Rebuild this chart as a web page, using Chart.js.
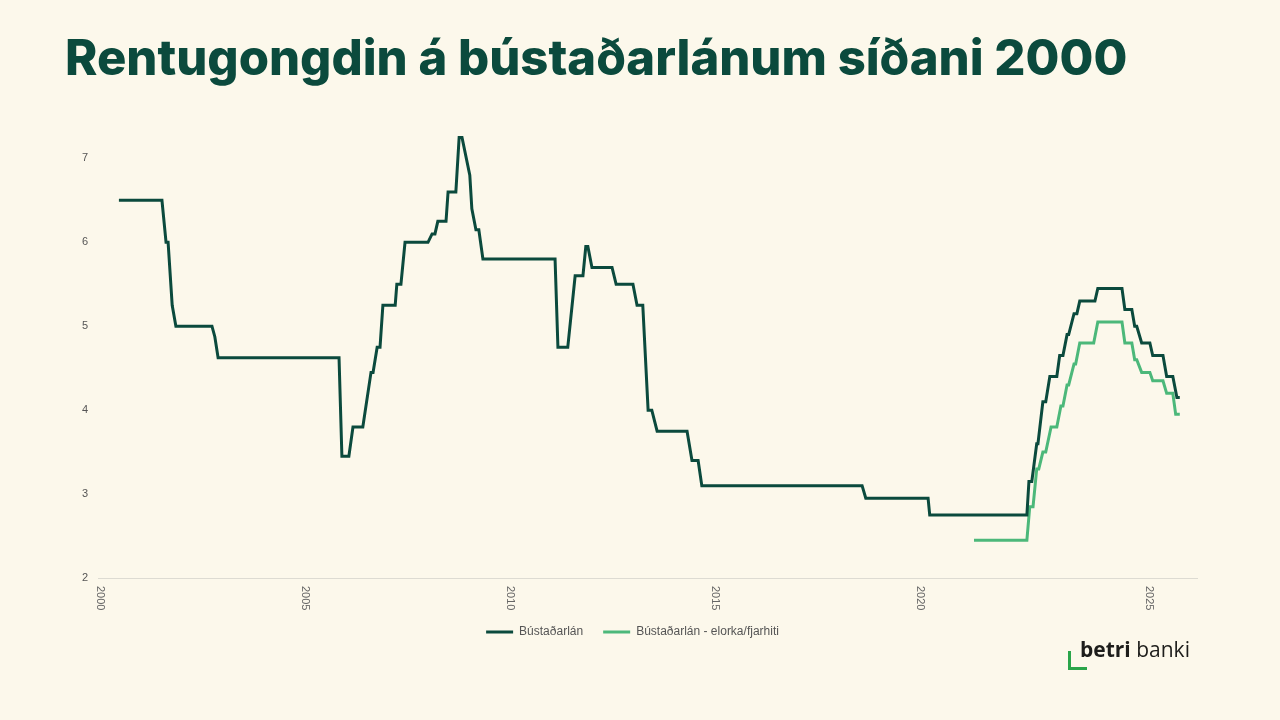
<!DOCTYPE html>
<html lang="fo">
<head>
<meta charset="utf-8">
<title>Rentugongdin á bústaðarlánum síðani 2000</title>
<script src="https://cdn.jsdelivr.net/npm/chart.js@4.4.1/dist/chart.umd.min.js"></script>
<style>
  html, body { margin: 0; padding: 0; }
  body { width: 1280px; height: 720px; background: #fcf8eb; position: relative; overflow: hidden; font-family: "Liberation Sans", Arial, sans-serif; }
  h1 { position: absolute; left: 65px; top: 23px; margin: 0; font-family: Inter, "Open Sans", sans-serif; font-weight: 800; font-size: 49px; line-height: 70px; color: #0b4a3d; letter-spacing: 0px; }
  #wrap { position: absolute; left: 0; top: 104px; width: 1280px; height: 550px; }
  .logo { position: absolute; left: 1080px; top: 634px; font-family: "Open Sans", Inter, sans-serif; font-size: 21px; color: #1d1d1b; line-height: 30px; }
  .logo b { font-weight: 700; }
  .mark { position: absolute; left: 1068px; top: 651px; width: 19px; height: 19px; border-left: 3px solid #2aa54a; border-bottom: 3px solid #2aa54a; box-sizing: border-box; }
</style>
</head>
<body>
<h1>Rentugongdin á bústaðarlánum síðani 2000</h1>
<div id="wrap"><canvas id="rateChart"></canvas></div>
<div class="mark"></div>
<div class="logo"><b>betri</b> banki</div>
<script>
// Bústaðarlán (decimal year, rate %)
const bustadDates = [2000.46, 2001.51, 2001.61, 2001.66, 2001.76, 2001.85, 2002.73, 2002.80, 2002.88,
  2005.83, 2005.90, 2006.07, 2006.17, 2006.41, 2006.61, 2006.66, 2006.76, 2006.83, 2006.90, 2007.20,
  2007.24, 2007.34, 2007.44, 2008.00, 2008.10, 2008.17, 2008.24, 2008.44, 2008.49, 2008.68, 2008.76,
  2008.83, 2009.02, 2009.07, 2009.17, 2009.24, 2009.34, 2011.10, 2011.17, 2011.41, 2011.59, 2011.78,
  2011.85, 2011.90, 2012.00, 2012.49, 2012.59, 2013.00, 2013.10, 2013.24, 2013.37, 2013.46, 2013.59,
  2014.32, 2014.44, 2014.59, 2014.68, 2018.59, 2018.68, 2020.20, 2020.24, 2022.61, 2022.66, 2022.73,
  2022.85, 2022.88, 2023.00, 2023.07, 2023.17, 2023.34, 2023.41, 2023.49, 2023.59, 2023.63, 2023.76,
  2023.83, 2023.90, 2024.27, 2024.34, 2024.93, 2025.00, 2025.17, 2025.24, 2025.29, 2025.41, 2025.61,
  2025.68, 2025.93, 2026.02, 2026.17, 2026.27, 2026.34];
const bustadRates = [6.5, 6.5, 6.0, 6.0, 5.25, 5.0, 5.0, 4.875, 4.625,
  4.625, 3.45, 3.45, 3.8, 3.8, 4.45, 4.45, 4.75, 4.75, 5.25, 5.25,
  5.5, 5.5, 6.0, 6.0, 6.1, 6.1, 6.25, 6.25, 6.6, 6.6, 7.25,
  7.25, 6.8, 6.4, 6.15, 6.15, 5.8, 5.8, 4.75, 4.75, 5.6, 5.6,
  5.95, 5.95, 5.7, 5.7, 5.5, 5.5, 5.25, 5.25, 4.0, 4.0, 3.75,
  3.75, 3.4, 3.4, 3.1, 3.1, 2.95, 2.95, 2.75, 2.75, 3.15, 3.15,
  3.6, 3.6, 4.1, 4.1, 4.4, 4.4, 4.65, 4.65, 4.9, 4.9, 5.15,
  5.15, 5.3, 5.3, 5.45, 5.45, 5.2, 5.2, 5.0, 5.0, 4.8, 4.8,
  4.65, 4.65, 4.4, 4.4, 4.15, 4.15];

// Bústaðarlán - elorka/fjarhiti
const elorkaDates = [2021.32, 2022.61, 2022.68, 2022.76, 2022.85, 2022.90, 2023.00, 2023.07, 2023.20,
  2023.34, 2023.44, 2023.49, 2023.59, 2023.63, 2023.76, 2023.80, 2023.90, 2024.24, 2024.34, 2024.93,
  2025.00, 2025.17, 2025.24, 2025.29, 2025.41, 2025.61, 2025.68, 2025.93, 2026.02, 2026.17, 2026.24, 2026.34];
const elorkaRates = [2.45, 2.45, 2.85, 2.85, 3.3, 3.3, 3.5, 3.5, 3.8,
  3.8, 4.05, 4.05, 4.3, 4.3, 4.55, 4.55, 4.8, 4.8, 5.05, 5.05,
  4.8, 4.8, 4.6, 4.6, 4.45, 4.45, 4.35, 4.35, 4.2, 4.2, 3.95, 3.95];

const xTickPos = [2000, 2005, 2010, 2015, 2020, 2025.6];
const xTickLabels = ['2000', '2005', '2010', '2015', '2020', '2025'];
const yTicks = [2, 3, 4, 5, 6, 7];

const toPoints = (xs, ys) => xs.map((x, i) => ({ x: x, y: ys[i] }));

/* rotated year labels under the x axis (they read top to bottom) */
const xLabels = {
  id: 'xLabels',
  afterDraw(chart) {
    const sc = chart.scales.x;
    const ctx = chart.ctx;
    ctx.save();
    ctx.font = '11px "Liberation Sans", Arial, sans-serif';
    ctx.fillStyle = '#666';
    ctx.textAlign = 'left';
    ctx.textBaseline = 'middle';
    sc.ticks.forEach((t, i) => {
      const px = sc.getPixelForValue(t.value);
      ctx.save();
      ctx.translate(px, sc.top + 8);
      ctx.rotate(Math.PI / 2);
      ctx.fillText(xTickLabels[i], 0, 0);
      ctx.restore();
    });
    ctx.restore();
  }
};

new Chart(document.getElementById('rateChart'), {
  type: 'line',
  data: {
    datasets: [{
      label: 'Bústaðarlán',
      data: toPoints(bustadDates, bustadRates),
      borderColor: '#0b4a3d',
      backgroundColor: '#0b4a3d',
      borderWidth: 3,
      pointRadius: 0,
      pointStyle: 'line',
      tension: 0
    }, {
      label: 'Bústaðarlán - elorka/fjarhiti',
      data: toPoints(elorkaDates, elorkaRates),
      borderColor: '#4cb87a',
      backgroundColor: '#4cb87a',
      borderWidth: 3,
      pointRadius: 0,
      pointStyle: 'line',
      tension: 0
    }]
  },
  options: {
    responsive: true,
    maintainAspectRatio: false,
    animation: false,
    layout: { padding: { left: 68, right: 83, top: 0, bottom: 6 } },
    plugins: {
      legend: {
        position: 'bottom',
        labels: {
          usePointStyle: true,
          pointStyle: 'line',
          pointStyleWidth: 27,
          boxHeight: 12,
          color: '#555',
          font: { family: '"Liberation Sans", Arial, sans-serif', size: 12 },
          padding: 20
        }
      },
      tooltip: { enabled: false }
    },
    scales: {
      x: {
        type: 'linear',
        min: 1999.95,
        max: 2026.76,
        afterBuildTicks: (scale) => { scale.ticks = xTickPos.map(v => ({ value: v })); },
        afterFit: (scale) => { scale.height = 28; },
        ticks: { display: false, callback: (v, i) => xTickLabels[i] },
        grid: { display: false },
        border: { display: true, color: '#dddbd2', width: 1 }
      },
      y: {
        min: 2,
        max: 7.45,
        afterBuildTicks: (scale) => { scale.ticks = yTicks.map(v => ({ value: v })); },
        afterFit: (scale) => { scale.width = 30; },
        ticks: {
          padding: 10,
          color: '#555',
          font: { family: '"Liberation Sans", Arial, sans-serif', size: 11 }
        },
        grid: { display: false, drawTicks: false },
        border: { display: false }
      }
    }
  },
  plugins: [xLabels]
});
</script>
</body>
</html>
